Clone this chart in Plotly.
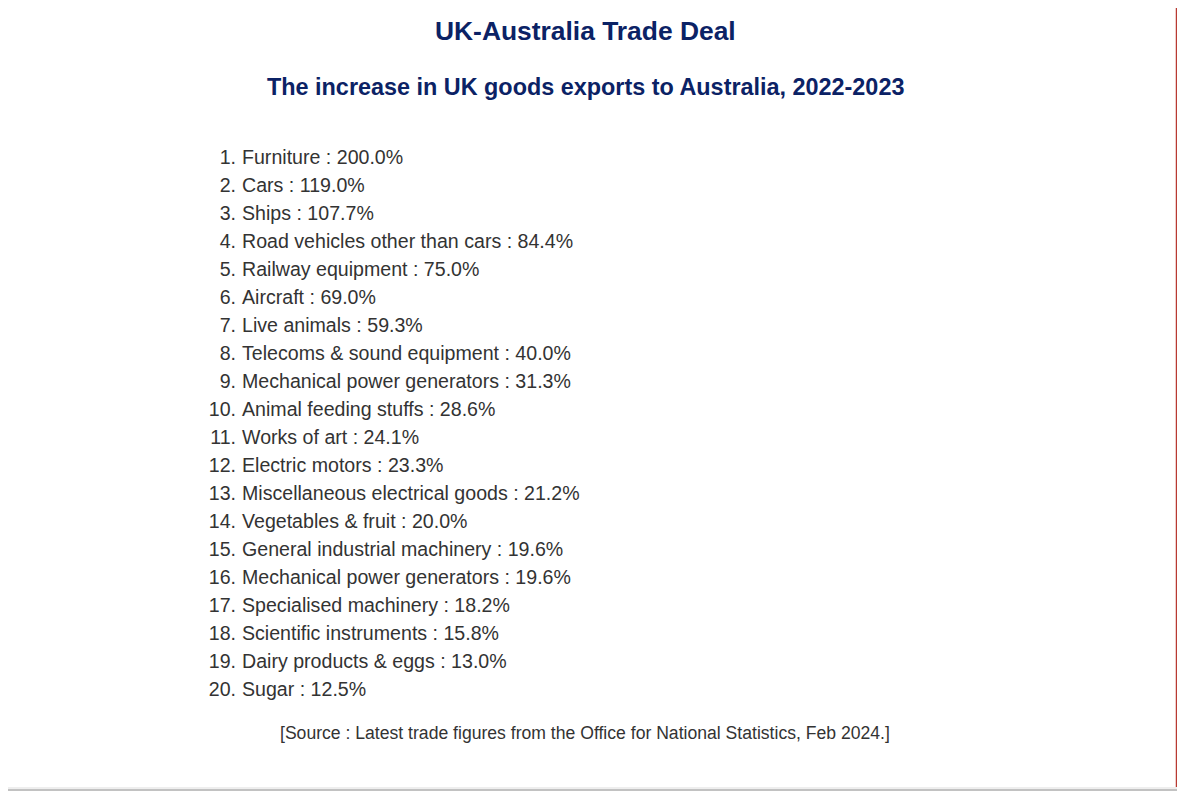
import plotly.graph_objects as go

# chart texts
title = "UK-Australia Trade Deal"
subtitle = "The increase in UK goods exports to Australia, 2022-2023"
source = "[Source : Latest trade figures from the Office for National Statistics, Feb 2024.]"

# ranked categories and their percentage increase
goods = [
    "Furniture", "Cars", "Ships", "Road vehicles other than cars",
    "Railway equipment", "Aircraft", "Live animals",
    "Telecoms & sound equipment", "Mechanical power generators",
    "Animal feeding stuffs", "Works of art", "Electric motors",
    "Miscellaneous electrical goods", "Vegetables & fruit",
    "General industrial machinery", "Mechanical power generators",
    "Specialised machinery", "Scientific instruments",
    "Dairy products & eggs", "Sugar",
]
increase = [200.0, 119.0, 107.7, 84.4, 75.0, 69.0, 59.3, 40.0, 31.3, 28.6,
            24.1, 23.3, 21.2, 20.0, 19.6, 19.6, 18.2, 15.8, 13.0, 12.5]
ranks = list(range(1, len(goods) + 1))

# the page puts the plot 8px in from the top-left corner
W, H = 1185, 791
row_px = 28
first_px = 151
navy = "#0b2265"
grey = "#333333"
font = "Arial, Liberation Sans, sans-serif"

fig = go.Figure()

# list numbers, right aligned
fig.add_trace(go.Scatter(
    x=[228] * len(ranks), y=ranks, mode="text",
    text=[f"{r}." for r in ranks], textposition="middle left",
    textfont=dict(size=19.6, color=grey, family=font),
    hoverinfo="skip", showlegend=False,
))
# list items, left aligned
fig.add_trace(go.Scatter(
    x=[234] * len(ranks), y=ranks, mode="text",
    text=[f"{g} : {v:.1f}%" for g, v in zip(goods, increase)],
    textposition="middle right",
    textfont=dict(size=19.6, color=grey, family=font),
    hoverinfo="skip", showlegend=False,
))

y_top = 1 - first_px / row_px
y_bot = 1 + (H - first_px) / row_px

fig.update_layout(
    width=W, height=H,
    margin=dict(l=0, r=0, t=0, b=0),
    paper_bgcolor="white", plot_bgcolor="white",
    xaxis=dict(range=[0, W], visible=False, fixedrange=True),
    yaxis=dict(range=[y_bot, y_top], visible=False, fixedrange=True),
)


def py(px):
    return 1 - px / H


cx = 577 / W
fig.add_annotation(text=f"<b>{title}</b>", x=cx, y=py(23), xref="paper", yref="paper",
                   showarrow=False, xanchor="center", yanchor="middle",
                   font=dict(size=26.4, color=navy, family=font))
fig.add_annotation(text=f"<b>{subtitle}</b>", x=cx, y=py(79), xref="paper", yref="paper",
                   showarrow=False, xanchor="center", yanchor="middle",
                   font=dict(size=23.4, color=navy, family=font))
fig.add_annotation(text=source, x=cx, y=py(725), xref="paper", yref="paper",
                   showarrow=False, xanchor="center", yanchor="middle",
                   font=dict(size=17.6, color=grey, family=font))

# page edges: red rule on the right, grey bar at the bottom
fig.add_shape(type="rect", xref="paper", yref="paper", x0=0, x1=1, y0=py(781), y1=py(779),
              fillcolor="#eeeeee", line=dict(width=0))
fig.add_shape(type="rect", xref="paper", yref="paper", x0=0, x1=1, y0=py(783), y1=py(781),
              fillcolor="#c2c2c2", line=dict(width=0))
fig.add_shape(type="line", xref="paper", yref="paper", x0=1168.5 / W, x1=1168.5 / W,
              y0=py(779), y1=1, line=dict(color="#b83a32", width=1.5))

fig.write_html("out.html", config={"displayModeBar": False})
